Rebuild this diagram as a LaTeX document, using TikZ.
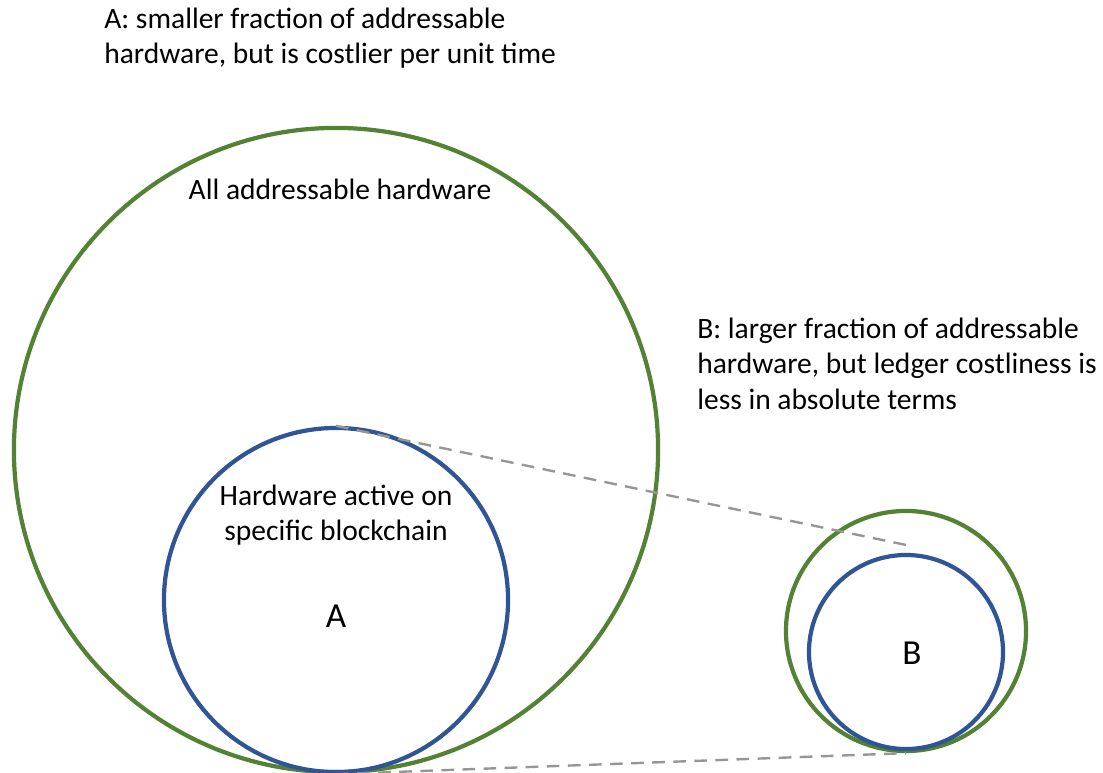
\documentclass[tikz,border=0pt]{standalone}
\usepackage{fontspec}
\setmainfont{Carlito}
\usepackage{tikz}
\usetikzlibrary{positioning}
\definecolor{RingGreen}{RGB}{84,130,53}
\definecolor{RingBlue}{RGB}{47,85,151}
\definecolor{DashGray}{RGB}{150,150,150}

\begin{document}
\begin{tikzpicture}[
 x=0.025cm, y=-0.025cm,
 outer/.style={draw=RingGreen, circle, line width=3pt, inner sep=0pt},
 inner/.style={draw=RingBlue, circle, line width=3pt, inner sep=0pt},
 link/.style={draw=DashGray, dashed, dash pattern=on 9pt off 6pt, line width=1.7pt},
 note/.style={align=left, inner sep=0pt, anchor=north west},
 font=\fontsize{21}{25}\selectfont
]
\useasboundingbox (0,0) rectangle (1103,773);
\node[outer, minimum size=16.1cm] (allhw)  at (336,450) {};
\node[inner, minimum size=8.6cm] (activeA) at (336,600) {};
\node[outer, minimum size=6.0cm] (allB)   at (906,631) {};
\node[inner, minimum size=4.85cm]  (activeB) at (906,652) {};
\coordinate (tipB) at (911,546);

\node[note] (textA) at (104,8) {A: smaller fraction of addressable\\hardware, but is costlier per unit time};
\node[note] (textB) at (697,318) {B: larger fraction of addressable\\hardware, but ledger costliness is\\less in absolute terms};
\node (lblall)   at (340,189) {All addressable hardware};
\node[align=center] (lblactive) at (336,515) {Hardware active on\\specific blockchain};
\node (lblA) at (336,616) {\fontsize{25}{28}\selectfont A};
\node (lblB) at (912,653) {\fontsize{25}{28}\selectfont B};

\draw[link] (activeA.north) -- (tipB);
\draw[link] (activeA.south) -- (allB.south);
\end{tikzpicture}
\end{document}
